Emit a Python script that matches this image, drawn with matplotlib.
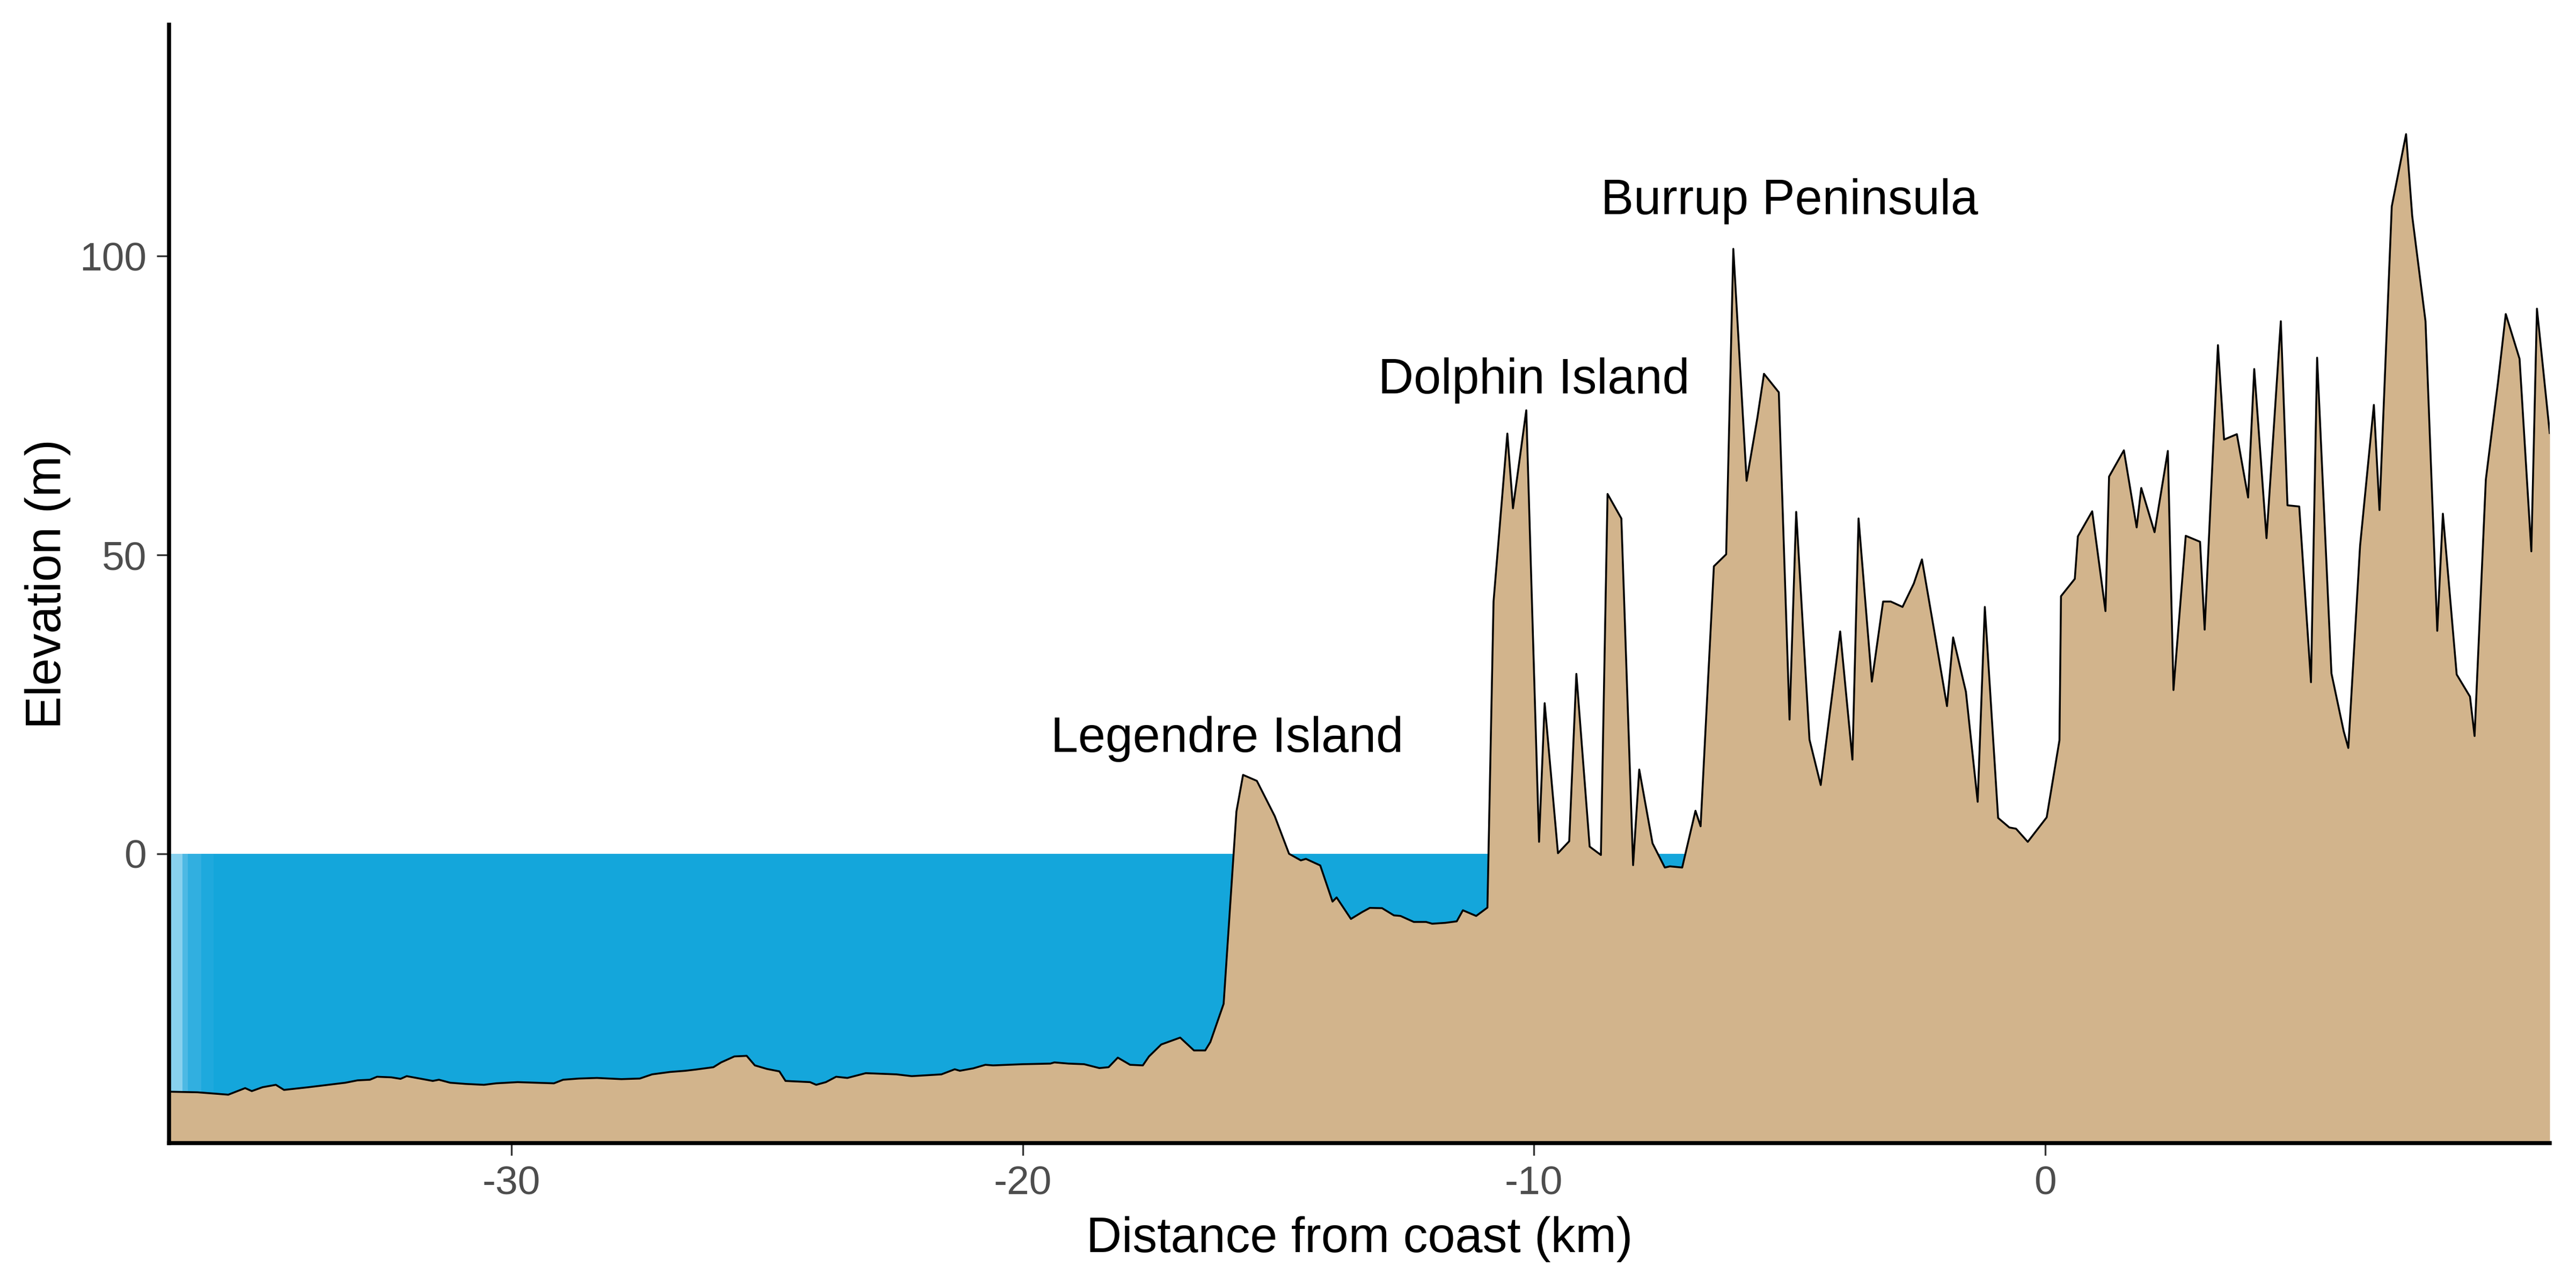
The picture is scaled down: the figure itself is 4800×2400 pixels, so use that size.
import numpy as np
import matplotlib
matplotlib.use('Agg')
import matplotlib.pyplot as plt

# elevation profile (distance from coast in km, elevation in m)
dist_km = [-36.70, -36.14, -35.54, -35.21, -35.08, -34.87, -34.61, -34.45, -33.97, -33.25,
           -33.01, -32.77, -32.63, -32.35, -32.17, -32.05, -31.54, -31.42, -31.20, -30.90,
           -30.54, -30.30, -29.88, -29.17, -28.99, -28.68, -28.33, -27.85, -27.49, -27.25,
           -26.90, -26.60, -26.40, -26.05, -25.90, -25.64, -25.40, -25.24, -25.00, -24.76,
           -24.64, -24.16, -24.04, -23.85, -23.65, -23.43, -23.07, -22.47, -22.17, -21.59,
           -21.33, -21.23, -20.97, -20.73, -20.58, -20.00, -19.46, -19.38, -19.10, -18.80,
           -18.50, -18.32, -18.14, -17.98, -17.90, -17.65, -17.53, -17.29, -16.92, -16.65,
           -16.43, -16.33, -16.07, -15.82, -15.69, -15.42, -15.07, -14.79, -14.56, -14.46,
           -14.18, -13.94, -13.86, -13.58, -13.36, -13.21, -12.97, -12.74, -12.61, -12.35,
           -12.11, -11.99, -11.73, -11.51, -11.39, -11.13, -10.91, -10.79, -10.52, -10.41,
           -10.15, -9.90, -9.79, -9.53, -9.31, -9.17, -8.91, -8.69, -8.56, -8.29,
           -8.06, -7.94, -7.68, -7.44, -7.34, -7.10, -6.84, -6.74, -6.48, -6.24,
           -6.10, -5.84, -5.63, -5.50, -5.21, -5.00, -4.87, -4.61, -4.39, -4.01,
           -3.77, -3.65, -3.39, -3.17, -3.02, -2.79, -2.57, -2.41, -2.17, -1.92,
           -1.80, -1.55, -1.32, -1.18, -0.92, -0.70, -0.57, -0.34, 0.03, 0.28,
           0.31, 0.58, 0.64, 0.92, 1.18, 1.25, 1.54, 1.79, 1.88, 2.14,
           2.40, 2.51, 2.75, 3.03, 3.12, 3.38, 3.50, 3.75, 3.97, 4.09,
           4.33, 4.61, 4.74, 4.97, 5.20, 5.32, 5.60, 5.84, 5.93, 6.16,
           6.43, 6.54, 6.78, 7.06, 7.18, 7.44, 7.67, 7.78, 8.05, 8.31,
           8.40, 8.62, 8.86, 9.01, 9.28, 9.51, 9.62, 9.87]
elev_m = [-39.8, -39.9, -40.3, -39.2, -39.7, -39.05, -38.65, -39.5, -39.05, -38.3,
          -37.9, -37.8, -37.3, -37.4, -37.65, -37.2, -38.0, -37.8, -38.3, -38.5,
          -38.65, -38.4, -38.2, -38.4, -37.8, -37.6, -37.5, -37.7, -37.6, -36.9,
          -36.5, -36.3, -36.1, -35.7, -34.9, -33.9, -33.8, -35.4, -36.0, -36.4,
          -38.0, -38.2, -38.65, -38.2, -37.3, -37.5, -36.7, -36.9, -37.2, -36.9,
          -36.05, -36.3, -35.9, -35.3, -35.4, -35.2, -35.1, -34.9, -35.1, -35.2,
          -35.85, -35.7, -34.1, -34.9, -35.3, -35.4, -33.9, -31.9, -30.75, -32.9,
          -32.9, -31.5, -25.1, 7.05, 13.2, 12.2, 6.3, 0.0, -1.1, -0.85,
          -1.95, -8.0, -7.3, -10.9, -9.75, -9.05, -9.1, -10.3, -10.4, -11.4,
          -11.4, -11.7, -11.55, -11.3, -9.45, -10.4, -9.0, 42.2, 70.3, 57.8,
          74.2, 2.0, 25.2, 0.1, 2.1, 30.1, 1.2, -0.2, 60.2, 56.1,
          -1.9, 14.1, 1.75, -2.3, -2.1, -2.3, 7.2, 4.6, 48.1, 50.1,
          101.2, 62.4, 72.9, 80.3, 77.2, 22.45, 57.2, 19.1, 11.5, 37.2,
          15.75, 56.1, 28.8, 42.2, 42.2, 41.3, 45.2, 49.25, 37.3, 24.7,
          36.2, 27.1, 8.7, 41.3, 6.0, 4.4, 4.2, 2.0, 6.1, 19.0,
          43.1, 46.0, 53.1, 57.3, 40.6, 63.1, 67.5, 54.6, 61.2, 53.8,
          67.4, 27.4, 53.2, 52.2, 37.5, 85.1, 69.3, 70.2, 59.6, 81.1,
          52.8, 89.1, 58.3, 58.1, 28.7, 83.0, 30.2, 20.5, 17.7, 51.5,
          75.1, 57.5, 108.3, 120.4, 106.7, 89.1, 37.3, 56.9, 30.0, 26.3,
          19.7, 62.6, 79.0, 90.3, 82.8, 50.6, 91.2, 70.4]

# place labels
label_text = ['Legendre Island', 'Dolphin Island', 'Burrup Peninsula']
label_x = [-16, -10, -5]
label_y = [19.2, 79.2, 109.2]

# lighter shallow-water bands at the left edge of the sea
band_edges = [-36.70, -36.44, -36.33, -36.07, -35.83, 0.0]
band_colors = ['#88d1ee', '#4db9e4', '#31afe0', '#1ea9dd', '#14a6db']

x_lim = (-36.70, 9.87)
y_lim = (-48.4, 138.7)
x_ticks = [-30, -20, -10, 0]
y_ticks = [0, 50, 100]

plt.rcParams['font.family'] = ['Liberation Sans', 'DejaVu Sans']

fig = plt.figure(figsize=(16, 8), dpi=300)
ax = fig.add_axes([0.0656, 0.1125, 0.9242, 0.8683])

# sea
for i in range(len(band_colors)):
    ax.fill_between([band_edges[i], band_edges[i + 1]], y_lim[0], 0,
                    color=band_colors[i], lw=0, zorder=1)

# land
ax.fill_between(dist_km, elev_m, y_lim[0] - 10, color='#d2b48c', lw=0, zorder=2)
ax.plot(dist_km, elev_m, color='black', lw=0.85, zorder=3)

for t, x, y in zip(label_text, label_x, label_y):
    ax.text(x, y, t, ha='center', va='center', fontsize=22, color='black', zorder=4)

ax.set_xlim(x_lim)
ax.set_ylim(y_lim)
ax.set_xticks(x_ticks)
ax.set_yticks(y_ticks)
ax.set_xticklabels([str(v) for v in x_ticks])
ax.set_yticklabels([str(v) for v in y_ticks])

for s in ['top', 'right']:
    ax.spines[s].set_visible(False)
for s in ['left', 'bottom']:
    ax.spines[s].set_linewidth(1.8)
    ax.spines[s].set_color('black')
    ax.spines[s].set_zorder(5)

ax.tick_params(axis='both', length=5.5, width=0.8, color='#333333',
               labelsize=18, labelcolor='#4d4d4d', pad=4.5)
ax.set_xlabel('Distance from coast (km)', fontsize=22, labelpad=6)
ax.set_ylabel('Elevation (m)', fontsize=22, labelpad=4)

fig.savefig('out.png', dpi=300)
